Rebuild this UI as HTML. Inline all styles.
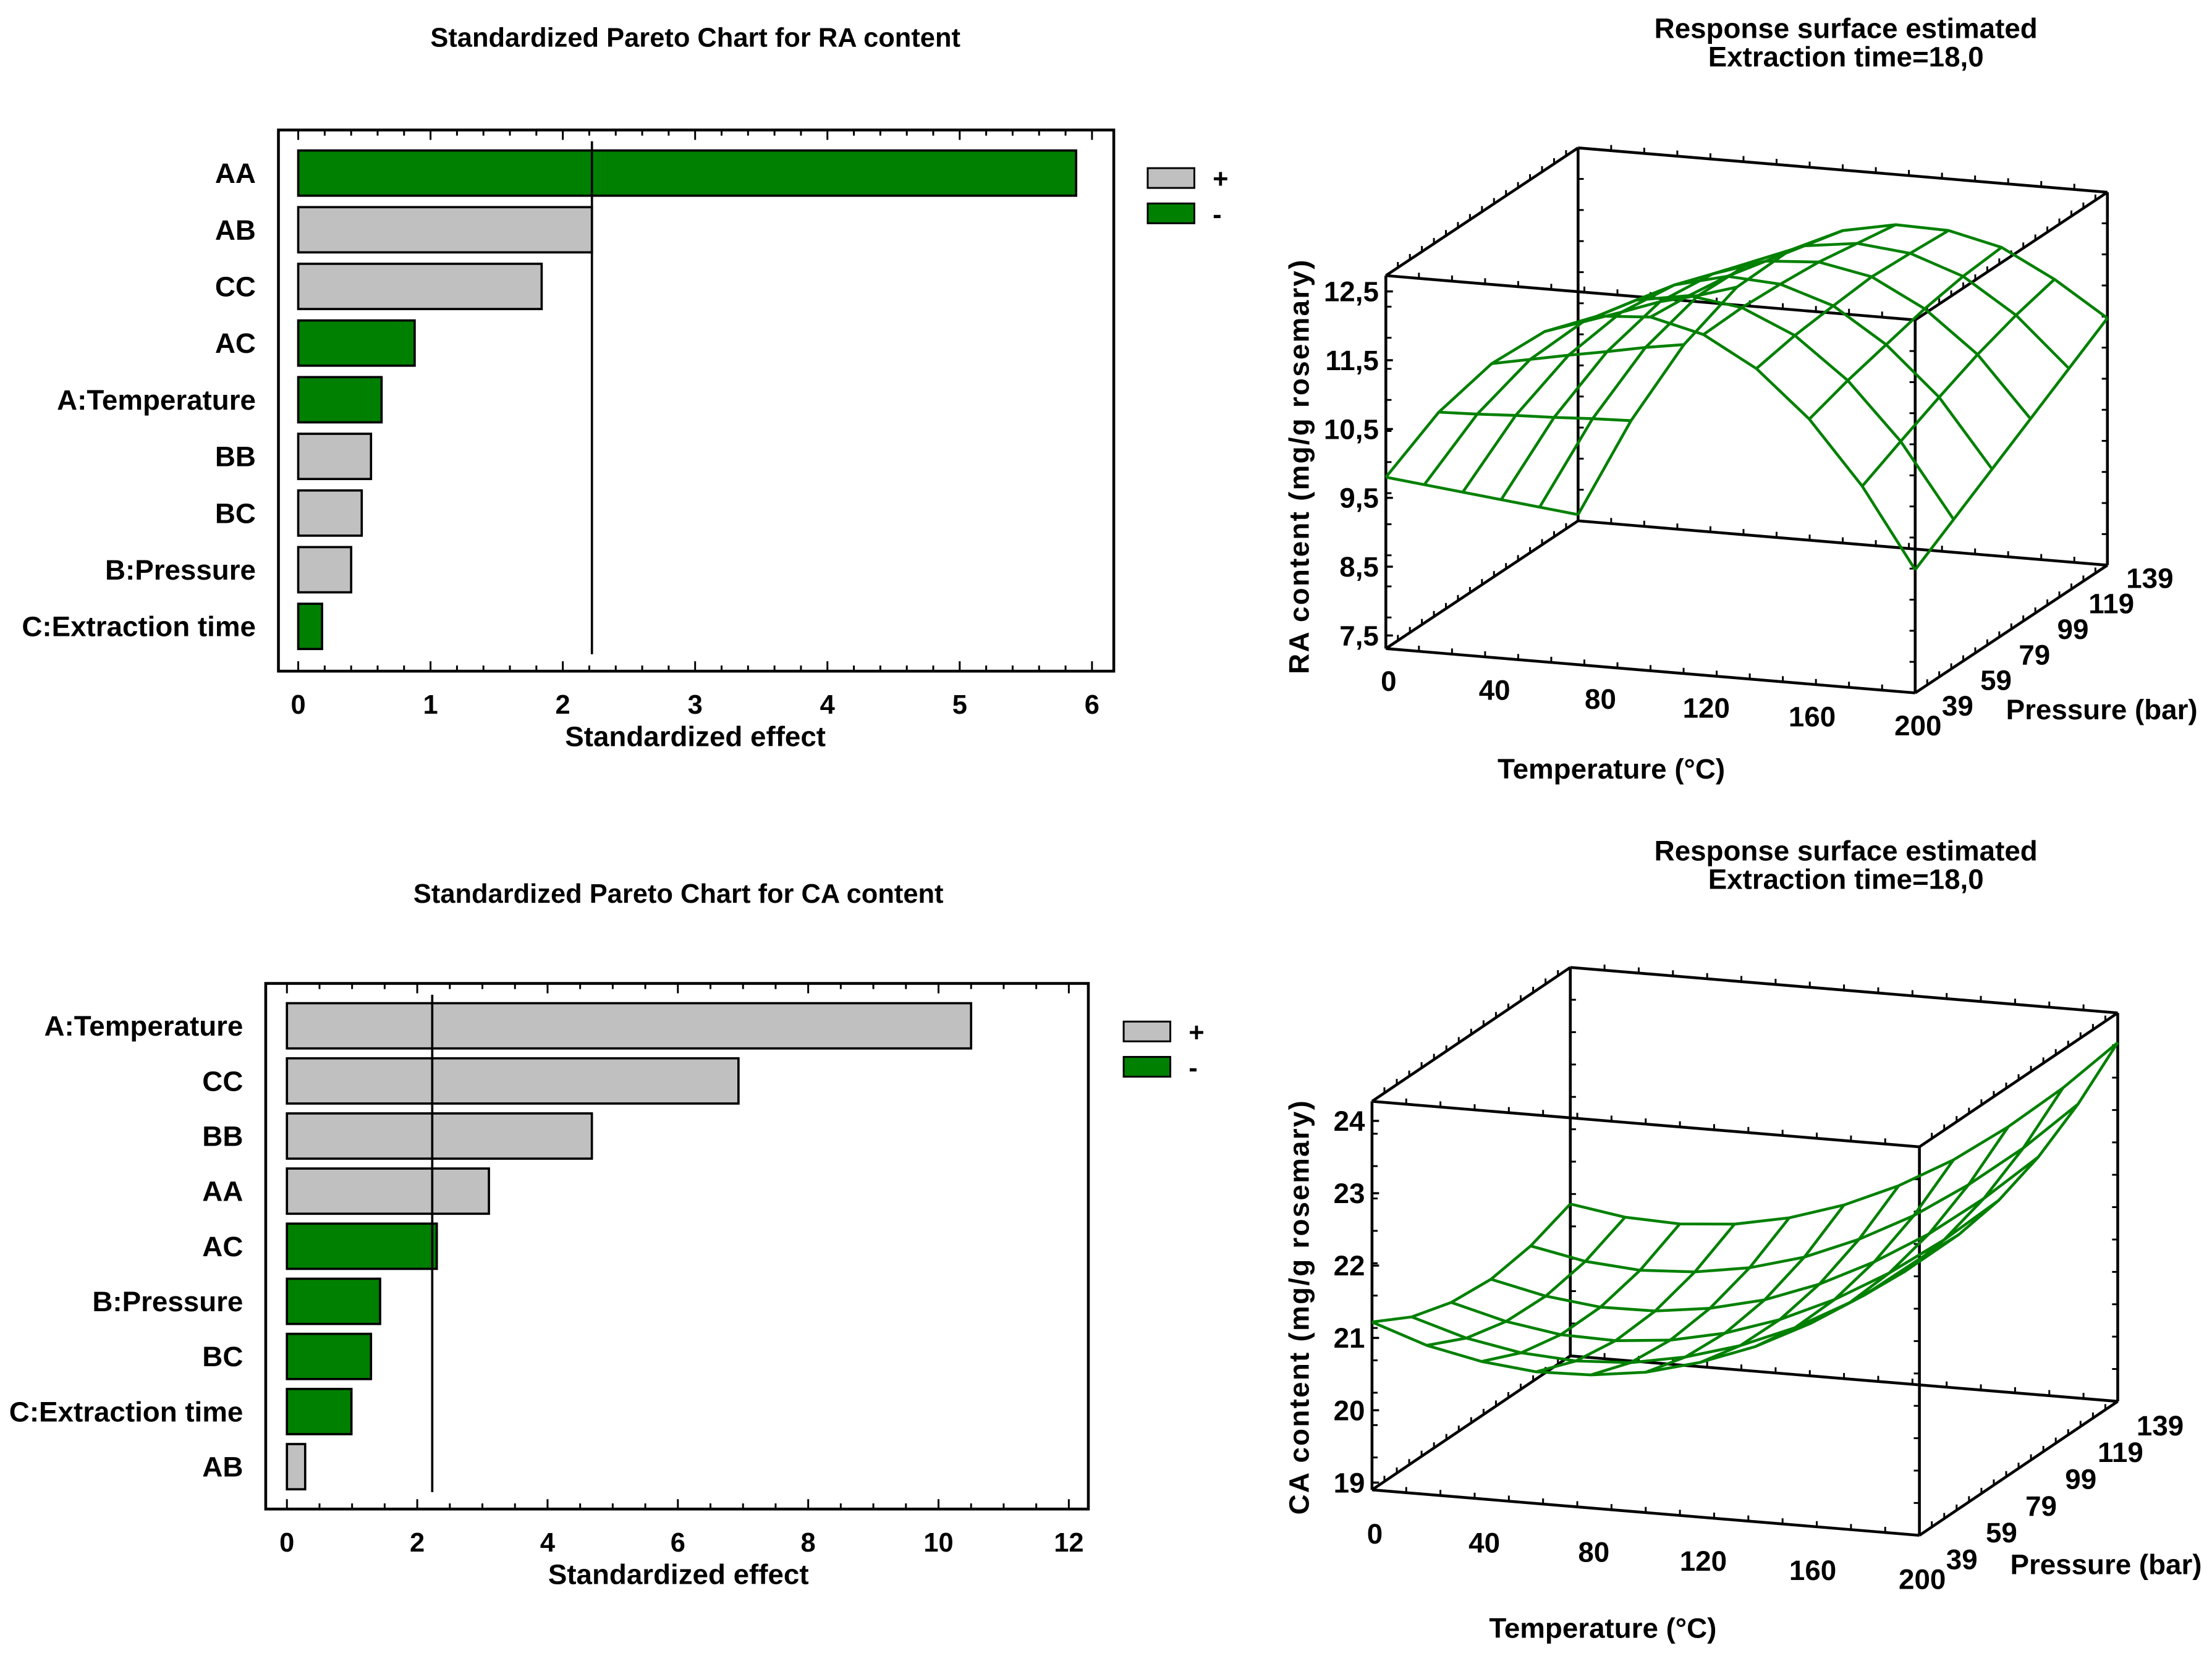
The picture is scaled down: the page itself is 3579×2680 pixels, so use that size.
<!DOCTYPE html>
<html><head><meta charset="utf-8"><style>
html,body{margin:0;padding:0;background:#fff;}
svg{display:block;}
text{font-family:"Liberation Sans",Arial,sans-serif;font-weight:bold;fill:#000;}
</style></head><body>
<svg id="fig" xmlns="http://www.w3.org/2000/svg" width="3579" height="2680" viewBox="0 0 1565 1172" preserveAspectRatio="none">
<rect x="0" y="0" width="1565" height="1172" fill="#fff"/>
<text x="492" y="33" font-size="19" text-anchor="middle">Standardized Pareto Chart for RA content</text>
<text x="480" y="639" font-size="19" text-anchor="middle">Standardized Pareto Chart for CA content</text>
<text x="1306" y="27" font-size="20" text-anchor="middle">Response surface estimated</text>
<text x="1306" y="47" font-size="20" text-anchor="middle">Extraction time=18,0</text>
<text x="1306" y="609" font-size="20" text-anchor="middle">Response surface estimated</text>
<text x="1306" y="629" font-size="20" text-anchor="middle">Extraction time=18,0</text>
<g id="g-ra-pareto"></g>
<g id="g-ca-pareto"></g>
<g id="g-ra-surf"></g>
<g id="g-ca-surf"></g>
</svg>
<script>
// ---------- Pareto data ----------
const raTerms = ["AA","AB","CC","AC","A:Temperature","BB","BC","B:Pressure","C:Extraction time"];
const raEffects = [5.88,2.22,1.84,0.88,0.63,0.55,0.48,0.40,0.18];
const raSigns = ["-","+","+","-","-","+","+","+","-"];
const raCritical = [2.22];
const raTicks = [0,1,2,3,4,5,6];

const caTerms = ["A:Temperature","CC","BB","AA","AC","B:Pressure","BC","C:Extraction time","AB"];
const caEffects = [10.5,6.93,4.68,3.10,2.30,1.43,1.29,0.99,0.28];
const caSigns = ["+","+","+","+","-","-","-","-","+"];
const caCritical = [2.23];
const caTicks = [0,2,4,6,8,10,12];

// ---------- Surface data (rows = pressure levels, columns = temperatures) ----------
const surfTemps = [0,20,40,60,80,100,120,140,160,180,200];
const surfPress = [39,59,79,99,119,139];
const raZ = [
 [9.80,10.81,11.58,12.11,12.40,12.45,12.26,11.83,11.16,10.25,9.10],
 [9.32,10.41,11.27,11.88,12.26,12.39,12.28,11.94,11.35,10.53,9.46],
 [8.84,10.02,10.96,11.65,12.11,12.30,12.25,12.00,11.50,10.80,9.82],
 [8.36,9.62,10.64,11.43,11.90,12.15,12.20,12.05,11.65,11.05,10.18],
 [7.88,9.23,10.33,11.15,11.70,12.00,12.10,12.02,11.75,11.25,10.54],
 [7.40,8.83,10.00,10.90,11.50,11.85,12.00,11.98,11.80,11.40,10.90]
];
const caZ = [
 [21.22,20.96,20.80,20.72,20.74,20.84,21.04,21.32,21.70,22.16,22.72],
 [20.92,20.69,20.55,20.50,20.54,20.68,20.90,21.21,21.62,22.11,22.69],
 [20.75,20.55,20.43,20.41,20.48,20.64,20.89,21.23,21.66,22.18,22.79],
 [20.70,20.53,20.44,20.45,20.55,20.73,21.01,21.38,21.83,22.38,23.02],
 [20.79,20.64,20.58,20.62,20.74,20.95,21.26,21.65,22.14,22.71,23.38],
 [21.00,20.88,20.85,20.91,21.06,21.30,21.63,22.05,22.57,23.17,23.86]
];
const raZLabels = ["12,5","11,5","10,5","9,5","8,5","7,5"];
const raZTickVals = [12.5,11.5,10.5,9.5,8.5,7.5];
const caZLabels = ["24","23","22","21","20","19"];
const caZTickVals = [24,23,22,21,20,19];
const tempLabels = ["0","40","80","120","160","200"];
const tempTickVals = [0,40,80,120,160,200];
const pressLabels = ["39","59","79","99","119","139"];
const pressTickVals = [39,59,79,99,119,139];

const NS = "http://www.w3.org/2000/svg";
function mk(parent, tag, attrs, txt){
  const e = document.createElementNS(NS, tag);
  for (const k in attrs) e.setAttribute(k, attrs[k]);
  if (txt !== undefined) e.textContent = txt;
  parent.appendChild(e);
  return e;
}

function pareto(gid, cfg, terms, effects, signs, crit, ticks){
  const g = document.getElementById(gid);
  const xs = v => cfg.x0 + v * cfg.unit;
  const ys = i => cfg.row0 + i * cfg.rowStep;
  const fr = mk(g,'rect',{x:cfg.left,y:cfg.top,width:cfg.right-cfg.left,height:cfg.bottom-cfg.top,fill:'none',stroke:'#000','stroke-width':2});
  
  
  const tMax = ticks[ticks.length-1];
  for (let v = 0; v <= tMax + 1e-9; v += cfg.minor){
    const major = ticks.some(t => Math.abs(t - v) < 1e-6);
    const len = major ? 7 : 4;
    mk(g,'line',{x1:xs(v),x2:xs(v),y1:cfg.bottom,y2:cfg.bottom-len,stroke:'#000','stroke-width':1.3});
    mk(g,'line',{x1:xs(v),x2:xs(v),y1:cfg.top,y2:cfg.top+len,stroke:'#000','stroke-width':1.3});
  }
  ticks.forEach(t => {
    const tl = mk(g,'text',{x:xs(t),y:cfg.bottom+30,'font-size':19,'text-anchor':'middle'}, String(t));
    
    
  });
  const xt = mk(g,'text',{x:cfg.xTitleX,y:cfg.bottom+53,'font-size':20,'text-anchor':'middle'},'Standardized effect');
  
  
  terms.forEach((t,i) => {
    const y = ys(i);
    const b = mk(g,'rect',{x:xs(0),y:y-16,width:xs(effects[i])-xs(0),height:32,fill:signs[i]==='+'?'#c0c0c0':'#008000',stroke:'#000','stroke-width':1.6});
    
    
    const lb = mk(g,'text',{x:cfg.labelX,y:y+7,'font-size':20,'text-anchor':'end'}, t);
    
    
  });
  const cl = mk(g,'line',{x1:xs(crit[0]),x2:xs(crit[0]),y1:cfg.top+8,y2:cfg.bottom-12,stroke:'#000','stroke-width':1.6});
  
  
  const lg = mk(g,'g',{});
  
  
  const e1 = mk(lg,'rect',{x:cfg.legX,y:cfg.legY,width:33,height:14,fill:'#c0c0c0',stroke:'#000','stroke-width':1.3});
  
  
  mk(lg,'text',{x:cfg.legX+46,y:cfg.legY+14,'font-size':19},'+');
  const e2 = mk(lg,'rect',{x:cfg.legX,y:cfg.legY+25,width:33,height:14,fill:'#008000',stroke:'#000','stroke-width':1.3});
  
  
  mk(lg,'text',{x:cfg.legX+46,y:cfg.legY+39,'font-size':19},'-');
}

pareto('g-ra-pareto',{left:197,right:788,top:92,bottom:475,x0:211,unit:93.6,row0:122.5,rowStep:40.1,minor:0.2,labelX:181,xTitleX:492,legX:812,legY:119},raTerms,raEffects,raSigns,raCritical,raTicks);
pareto('g-ca-pareto',{left:188,right:770,top:696,bottom:1068,x0:203,unit:46.1,row0:726,rowStep:39,minor:0.5,labelX:172,xTitleX:480,legX:795,legY:723},caTerms,caEffects,caSigns,caCritical,caTicks);

function surface(gid, cfg, Z, zLabels, zVals, title){
  const g = document.getElementById(gid);
  const P = (T, Pr, z) => {
    const ft = (T - 0) / 200, fp = (Pr - 39) / 100;
    return [cfg.ox + ft*cfg.tv[0] + fp*cfg.pv[0], cfg.oy + ft*cfg.tv[1] + fp*cfg.pv[1] - (z - cfg.zmin)*cfg.zs];
  };
  const line = (a,b,name) => {
    const l = mk(g,'line',{x1:a[0],y1:a[1],x2:b[0],y2:b[1],stroke:'#000','stroke-width':2});
    
    
  };
  const zl = cfg.zmin, zh = cfg.zmax;
  const c = {
    flb:P(0,39,zl), flt:P(0,39,zh), frb:P(200,39,zl), frt:P(200,39,zh),
    blb:P(0,139,zl), blt:P(0,139,zh), brb:P(200,139,zl), brt:P(200,139,zh)
  };
  line(c.flb,c.flt,'box-edge'); line(c.frb,c.frt,'box-edge'); line(c.blb,c.blt,'box-edge'); line(c.brb,c.brt,'box-edge');
  line(c.flb,c.frb,'box-edge'); line(c.flt,c.frt,'box-edge'); line(c.blb,c.brb,'box-edge'); line(c.blt,c.brt,'box-edge');
  line(c.flb,c.blb,'box-edge'); line(c.flt,c.blt,'box-edge'); line(c.frb,c.brb,'box-edge'); line(c.frt,c.brt,'box-edge');
  const zr = zh - zl;
  for (let k=1;k<12;k++){
    const z = zl + zr*k/12;
    [[0,39,1],[200,39,-1],[0,139,1],[200,139,-1]].forEach(q=>{
      const p = P(q[0],q[1],z);
      mk(g,'line',{x1:p[0],y1:p[1],x2:p[0]+q[2]*4,y2:p[1],stroke:'#000','stroke-width':1.3});
    });
  }
  for (let k=1;k<16;k++){
    const pr = 39 + 100*k/16, t = 200*k/16;
    [[0,zl],[0,zh],[200,zl],[200,zh]].forEach(q=>{
      const p = P(q[0],pr,q[1]);
      mk(g,'line',{x1:p[0],y1:p[1],x2:p[0],y2:p[1]-4,stroke:'#000','stroke-width':1.3});
    });
    [[39,zl],[139,zl],[39,zh],[139,zh]].forEach(q=>{
      const p = P(t,q[0],q[1]);
      mk(g,'line',{x1:p[0],y1:p[1],x2:p[0],y2:p[1]-4,stroke:'#000','stroke-width':1.3});
    });
  }
  const mesh = mk(g,'g',{fill:'none',stroke:'#008000','stroke-width':2,'stroke-linejoin':'round'});
  
  
  surfPress.forEach((pr,i) => {
    const pts = surfTemps.map((t,j) => P(t,pr,Z[i][j]).join(',')).join(' ');
    const pl = mk(mesh,'polyline',{points:pts});
    
    
  });
  surfTemps.forEach((t,j) => {
    const pts = surfPress.map((pr,i) => P(t,pr,Z[i][j]).join(',')).join(' ');
    const pl = mk(mesh,'polyline',{points:pts});
    
    
  });
  zVals.forEach((v,k) => {
    const p = P(0,39,v);
    const t = mk(g,'text',{x:p[0]-5,y:p[1]+7,'font-size':20,'text-anchor':'end'}, zLabels[k]);
    
    
    mk(g,'line',{x1:p[0],y1:p[1],x2:p[0]+5,y2:p[1],stroke:'#000','stroke-width':1.5});
  });
  tempTickVals.forEach((v,k) => {
    const p = P(v,39,zl);
    const t = mk(g,'text',{x:p[0]+2,y:p[1]+cfg.tOff,'font-size':20,'text-anchor':'middle'}, tempLabels[k]);
    
    
  });
  pressTickVals.forEach((v,k) => {
    const p = P(200,v,zl);
    const t = mk(g,'text',{x:p[0]+cfg.pOffX,y:p[1]+cfg.pOffY,'font-size':20,'text-anchor':'middle'}, pressLabels[k]);
    
    
  });
  const tt = mk(g,'text',{x:cfg.tTitle[0],y:cfg.tTitle[1],'font-size':20,'text-anchor':'middle'},'Temperature (°C)');
  
  
  const pt = mk(g,'text',{x:cfg.pTitle[0],y:cfg.pTitle[1],'font-size':20,'text-anchor':'middle'},'Pressure (bar)');
  
  
  const zt = mk(g,'text',{x:0,y:0,'font-size':20,'text-anchor':'middle','letter-spacing':'1',transform:'translate('+cfg.zTitle[0]+','+cfg.zTitle[1]+') rotate(-90)'},title);
  
  
}

surface('g-ra-surf',{ox:980.5,oy:459,tv:[374.5,31.4],pv:[136,-90.4],zmin:7.31,zmax:12.73,zs:48.7,tOff:30,pOffX:30,pOffY:16,tTitle:[1140,551],pTitle:[1487,509],zTitle:[926,330]},raZ,raZLabels,raZTickVals,'RA content (mg/g rosemary)');
surface('g-ca-surf',{ox:970.7,oy:1054.4,tv:[387.3,32.2],pv:[140.3,-94.8],zmin:18.9,zmax:24.27,zs:51.2,tOff:38,pOffX:30,pOffY:24,tTitle:[1134,1159],pTitle:[1490,1114],zTitle:[926,925]},caZ,caZLabels,caZTickVals,'CA content (mg/g rosemary)');
</script>
</body></html>
